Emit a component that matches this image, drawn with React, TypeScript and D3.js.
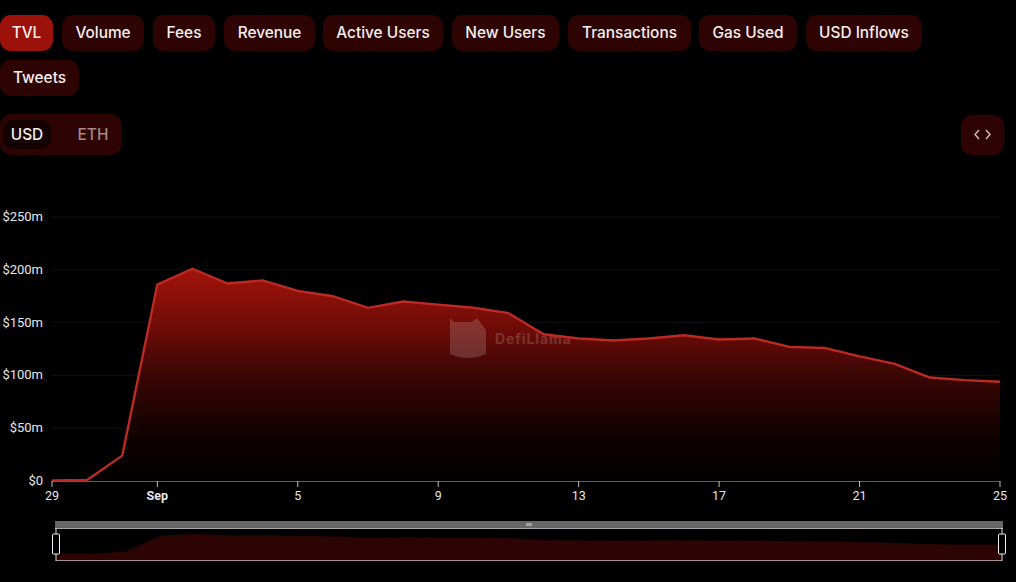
import * as d3 from "d3";
import React from "react";

const days = [
  "2023-08-29", "2023-08-30", "2023-08-31", "2023-09-01", "2023-09-02", "2023-09-03", "2023-09-04",
  "2023-09-05", "2023-09-06", "2023-09-07", "2023-09-08", "2023-09-09", "2023-09-10", "2023-09-11",
  "2023-09-12", "2023-09-13", "2023-09-14", "2023-09-15", "2023-09-16", "2023-09-17", "2023-09-18",
  "2023-09-19", "2023-09-20", "2023-09-21", "2023-09-22", "2023-09-23", "2023-09-24", "2023-09-25",
];
const tvl = [
  0.5, 1, 24, 186, 201, 187, 190, 180, 175, 164, 170, 167, 164, 159,
  139, 135, 133, 135, 138, 134, 135, 127, 126, 118, 111, 98, 95.5, 94,
];
const yTicks = [0, 50, 100, 150, 200, 250];
const xTickDays = ["2023-08-29", "2023-09-01", "2023-09-05", "2023-09-09", "2023-09-13", "2023-09-17", "2023-09-21", "2023-09-25"];
const xTickLabels = ["29", "Sep", "5", "9", "13", "17", "21", "25"];

const tabsRow1 = [
  { label: "TVL", x0: 0, x1: 53 },
  { label: "Volume", x0: 62, x1: 144 },
  { label: "Fees", x0: 153, x1: 215 },
  { label: "Revenue", x0: 224, x1: 315 },
  { label: "Active Users", x0: 323, x1: 443 },
  { label: "New Users", x0: 452, x1: 559 },
  { label: "Transactions", x0: 568, x1: 691 },
  { label: "Gas Used", x0: 699, x1: 797 },
  { label: "USD Inflows", x0: 806, x1: 922 },
];

const parse = d3.utcParse("%Y-%m-%d");
const dates = days.map((d) => parse(d) as Date);
const points = dates.map((d, i) => ({ date: d, value: tvl[i] }));

const width = 1016;
const height = 582;
const font = "Inter, 'Noto Sans', sans-serif";
const axisFont = "Roboto, Inter, sans-serif";

const Tab = ({ label, x0, x1, y, active }: { label: string; x0: number; x1: number; y: number; active?: boolean }) => (
  <g>
    <rect x={x0} y={y} width={x1 - x0} height={36} rx={11} fill={active ? "#9c120b" : "#2e0403"} />
    <text x={(x0 + x1) / 2} y={y + 23} textAnchor="middle" fontSize={15.4} fontWeight={500} fill="#f4eeee" fontFamily={font}>
      {label}
    </text>
  </g>
);

export default function App() {
  const x = d3.scaleUtc().domain([dates[0], dates[dates.length - 1]]).range([52, 1000]);
  const y = d3.scaleLinear().domain([0, 250]).range([481, 217]);

  const line = d3.line<{ date: Date; value: number }>().x((d) => x(d.date)).y((d) => y(d.value));
  const area = d3
    .area<{ date: Date; value: number }>()
    .x((d) => x(d.date))
    .y0(y(0))
    .y1((d) => y(d.value));

  const miniX = d3.scaleUtc().domain([dates[0], dates[dates.length - 1]]).range([56, 1002]);
  const miniY = d3.scaleLinear().domain([0, 201]).range([554, 534]);
  const miniArea = d3
    .area<{ date: Date; value: number }>()
    .x((d) => miniX(d.date))
    .y0(560)
    .y1((d) => miniY(d.value));

  return (
    <svg
      width={width}
      height={height}
      style={{ position: "absolute", left: 0, top: 0, display: "block", background: "#000" }}
    >
      <defs>
        <linearGradient id="tvlFill" gradientUnits="userSpaceOnUse" x1={0} y1={y(201)} x2={0} y2={y(0)}>
          <stop offset="0%" stopColor="#a3130b" />
          <stop offset="30%" stopColor="#6a0b07" />
          <stop offset="50%" stopColor="#3a0604" />
          <stop offset="80%" stopColor="#0e0101" />
          <stop offset="100%" stopColor="#020000" />
        </linearGradient>
      </defs>

      {tabsRow1.map((t, i) => (
        <Tab key={t.label} label={t.label} x0={t.x0} x1={t.x1} y={15} active={i === 0} />
      ))}
      <Tab label="Tweets" x0={0} x1={79} y={60} />

      {/* USD / ETH toggle */}
      <rect x={0} y={114} width={122} height={41} rx={12} fill="#2e0403" />
      <rect x={3} y={120} width={48} height={29} rx={10} fill="#140202" />
      <text x={27} y={140} textAnchor="middle" fontSize={15.4} fontWeight={500} fill="#f4eeee" fontFamily={font}>USD</text>
      <text x={93} y={140} textAnchor="middle" fontSize={15.4} fontWeight={500} fill="#a58a8a" fontFamily={font}>ETH</text>

      {/* embed button */}
      <rect x={961} y={115} width={43} height={40} rx={11} fill="#2e0403" />
      <path d="M979 130 L975 134.5 L979 139 M986 130 L990 134.5 L986 139" fill="none" stroke="#d9bcb8" strokeWidth={1.4} />

      {/* grid and y labels */}
      {yTicks.map((t) => (
        <g key={t}>
          {t > 0 && <line x1={52} x2={1000} y1={y(t)} y2={y(t)} stroke="#101010" strokeWidth={1} />}
          <text x={43} y={y(t) + 4} textAnchor="end" fontSize={13} fill="#e6e6e6" fontFamily={axisFont}>
            {t === 0 ? "$0" : `$${t}m`}
          </text>
        </g>
      ))}

      <path d={area(points) || undefined} fill="url(#tvlFill)" />

      {/* watermark */}
      <g opacity={0.16} fill="#fff">
        <path d="M450 318 L454 322 L472 322 L477 318 L486 330 L486 354 Q468 362 450 354 Z" />
        <text x={495} y={344} fontSize={14} fontWeight={700} letterSpacing={0.9} fontFamily={font}>DefiLlama</text>
      </g>

      <path d={line(points) || undefined} fill="none" stroke="#bb2a24" strokeWidth={2.4} />

      {/* x axis */}
      <line x1={52} x2={1000} y1={481.5} y2={481.5} stroke="#5c5c5c" strokeWidth={1} />
      {xTickDays.map((d, i) => {
        const px = x(parse(d) as Date);
        return (
          <g key={d}>
            <line x1={px} x2={px} y1={481} y2={487} stroke="#bdbdbd" strokeWidth={1} />
            <text
              x={px}
              y={500}
              textAnchor="middle"
              fontSize={12.5}
              fontWeight={xTickLabels[i] === "Sep" ? 700 : 400}
              fill="#e6e6e6"
              fontFamily={axisFont}
            >
              {xTickLabels[i]}
            </text>
          </g>
        );
      })}

      {/* data zoom slider */}
      <rect x={55} y={521} width={948} height={7} fill="#666" />
      <line x1={55} x2={1003} y1={528.5} y2={528.5} stroke="#a8a8a8" strokeWidth={1} />
      <path d={miniArea(points) || undefined} fill="#2c0403" />
      <line x1={56} x2={1002} y1={560.5} y2={560.5} stroke="#a89090" strokeWidth={1} />
      <path d="M527 523 V526 M529 523 V526 M531 523 V526" stroke="#ddd" strokeWidth={1} />
      {[56, 1002].map((hx) => (
        <g key={hx}>
          <line x1={hx} x2={hx} y1={528} y2={561} stroke="#d8d8d8" strokeWidth={1} />
          <rect x={hx - 3.5} y={534} width={7} height={20} rx={1} fill="#000" stroke="#f0f0f0" strokeWidth={1} />
        </g>
      ))}
    </svg>
  );
}
